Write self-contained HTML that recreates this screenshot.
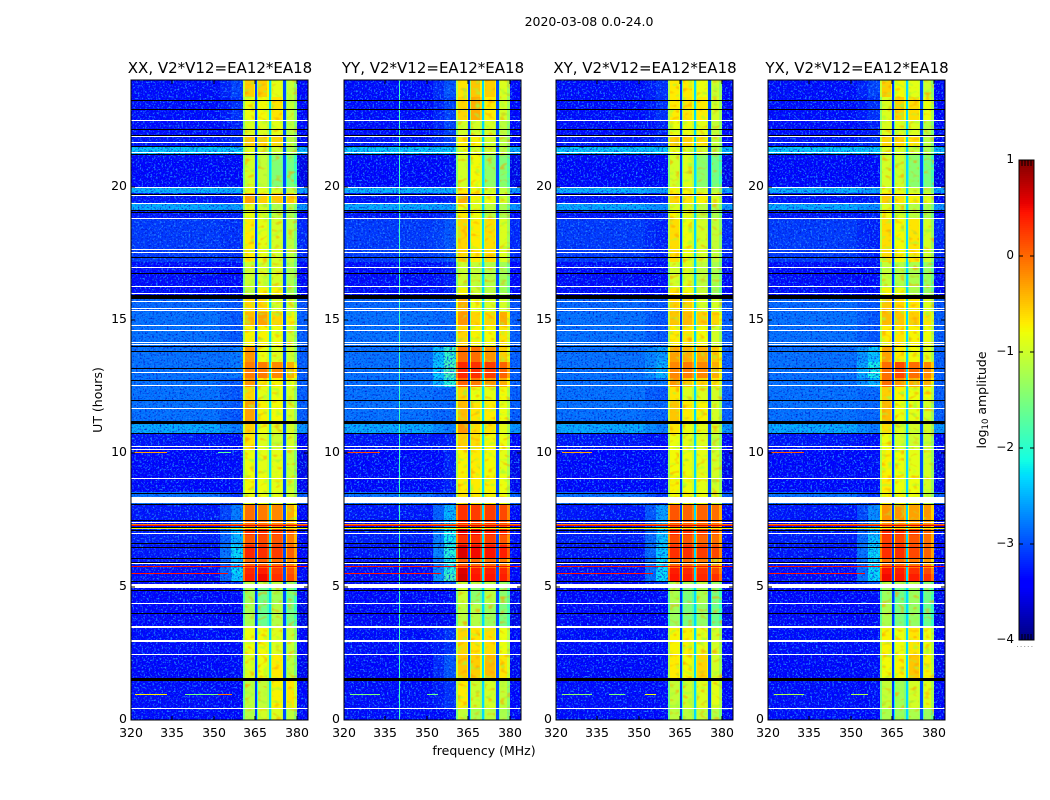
<!DOCTYPE html>
<html lang="en">
<head>
<meta charset="utf-8">
<title>2020-03-08 0.0-24.0</title>
<style>
html,body{margin:0;padding:0;background:#fff;}
#chart{display:block;width:1050px;height:800px;font-family:"DejaVu Sans","Liberation Sans",sans-serif;fill:#000;}
</style>
</head>
<body>
<svg id="chart" xmlns="http://www.w3.org/2000/svg" width="1050" height="800" viewBox="0 0 1050 800">
<defs>
<filter id="speckle-light" filterUnits="objectBoundingBox" x="0" y="0" width="1" height="1" color-interpolation-filters="sRGB">
<feTurbulence type="fractalNoise" baseFrequency="0.55" numOctaves="2" seed="4"/>
<feColorMatrix type="matrix" values="0 0 0 0 0.12  0 0 0 0 0.5  0 0 0 0 1  5 0 0 0 -2.6"/>
</filter>
<filter id="speckle-dark" filterUnits="objectBoundingBox" x="0" y="0" width="1" height="1" color-interpolation-filters="sRGB">
<feTurbulence type="fractalNoise" baseFrequency="0.55" numOctaves="2" seed="11"/>
<feColorMatrix type="matrix" values="0 0 0 0 0  0 0 0 0 0.08  0 0 0 0 0.8  3 0 0 0 -1.55"/>
</filter>
<filter id="mottle-warm" filterUnits="userSpaceOnUse" x="0" y="0" width="1050" height="800" color-interpolation-filters="sRGB">
<feTurbulence type="fractalNoise" baseFrequency="0.16 0.24" numOctaves="1" seed="7"/>
<feColorMatrix type="matrix" values="0 0 0 0 1  0 0 0 0 0.62  0 0 0 0 0  3 0 0 0 -1.65"/>
<feComposite in2="SourceGraphic" operator="in"/>
</filter>
<filter id="mottle-cool" filterUnits="userSpaceOnUse" x="0" y="0" width="1050" height="800" color-interpolation-filters="sRGB">
<feTurbulence type="fractalNoise" baseFrequency="0.16 0.24" numOctaves="1" seed="19"/>
<feColorMatrix type="matrix" values="0 0 0 0 0.6  0 0 0 0 1  0 0 0 0 0.25  3 0 0 0 -1.65"/>
<feComposite in2="SourceGraphic" operator="in"/>
</filter>
</defs>
<text x="589" y="26" text-anchor="middle" font-size="12.5">2020-03-08 0.0-24.0</text>
<text x="484" y="755" text-anchor="middle" font-size="12.5">frequency (MHz)</text>
<text transform="translate(102,400) rotate(-90)" text-anchor="middle" font-size="12.5">UT (hours)</text>
<text transform="translate(986,400) rotate(-90)" text-anchor="middle" font-size="12.5">log<tspan font-size="8.5" dy="2">10</tspan><tspan dy="-2"> amplitude</tspan></text>
</svg>
<script>
// ---- data (log10 amplitude, hours, MHz) ----
const panelTitles = ["XX, V2*V12=EA12*EA18", "YY, V2*V12=EA12*EA18", "XY, V2*V12=EA12*EA18", "YX, V2*V12=EA12*EA18"];
const freqTicks = [320, 335, 350, 365, 380];
const hourTicks = [0, 5, 10, 15, 20];
const colorbarTicks = [1, 0, -1, -2, -3, -4];

const timeEdges = [0,.45,1.46,2.44,3.45,4.35,4.95,5.17,5.47,5.7,6.07,6.56,6.94,7.2,8.06,8.55,9.19,10.12,10.76,11.1,12,12.49,12.82,13.42,14.02,14.77,15.3,15.82,16.2,17.17,18.82,19.12,19.35,19.76,19.98,21.22,21.52,21.9,22.5,23.36,24];

const backgroundLevels = [-3.05,-3.05,-3.1,-3.05,-3.15,-3.1,-3.05,-3.05,-3.05,-3,-3,-2.95,-2.95,-3,-2.5,-3.1,-3.15,-3,-2.2,-2.5,-2.5,-2.5,-2.5,-2.5,-2.5,-2.5,-2.55,-3.05,-3.05,-2.8,-3,-2.2,-3,-2.15,-3.15,-2.05,-3,-3.05,-3.05,-3.05];

// one row per time segment: subband 1, 2, 3, 4, shoulder below the band
const levelsXX = [
[-1.05,-.85,-.8,-1,-3],[-1,-.95,-.6,-.5,-3],[-.8,-.7,-.55,-1,-2.9],[-.7,-.65,-.8,-.95,-2.9],[-1.1,-1.5,-1.05,-1.45,-3],
[-1.15,-1.45,-1.15,-1.45,-2.9],[-1,-1,-1,-1.2,-2.7],[.4,.5,.3,.2,-1.9],[.35,.4,.25,.15,-1.8],[.1,.1,.05,-.05,-2],
[.35,.3,.25,.1,-1.8],[.15,.2,.15,0,-2],[.3,.3,.25,.1,-2],[.05,0,-.05,-.2,-2.3],[-.7,-.7,-.75,-.9,-2.7],
[-.65,-.7,-.75,-.9,-2.9],[-.7,-.75,-.75,-.95,-2.9],[-.5,-.8,-.9,-.85,-2.9],[-.35,-.7,-.8,-.85,-2.3],[-.15,-.6,-.65,-.85,-2.5],
[-.4,-.75,-.7,-.85,-2.5],[-.1,-.5,-.6,-.7,-2.5],[0,0,-.05,-.2,-2.3],[-.1,-.7,-.8,-.9,-2.3],[-.6,-.6,-.7,-.9,-2.5],
[-.25,-.15,-.4,-.6,-2.5],[-.4,-.4,-.85,-.9,-2.5],[-1,-.6,-.6,-1.1,-2.9],[-.9,-.85,-.85,-1.1,-2.9],[-.55,-.75,-.85,-1,-2.7],
[-.7,-.8,-1,-1.1,-2.8],[-.8,-.85,-1.1,-1.1,-2.1],[-.15,-.35,-.3,-.3,-2.8],[-.7,-.75,-.85,-.95,-2],[-.85,-.95,-1.35,-1.45,-3],
[-.75,-.85,-.9,-1.1,-1.9],[-.3,-.35,-.4,-1,-2.7],[-.8,-.8,-.75,-1,-2.8],[-.7,-.65,-.5,-.95,-2.7],[-.35,-.35,-.75,-.95,-2.6]];
const levelsYY = [
[-.95,-1.1,-1,-1.1,-2.9],[-.55,-.9,-.85,-.95,-2.7],[-.3,-.35,-.25,-.5,-2.5],[-.4,-.5,-.45,-.7,-2.7],[-1,-1.05,-1.2,-1.4,-3],
[-.9,-1.3,-1,-1.3,-2.9],[-.9,-1,-1,-1.2,-2.5],[.65,.45,.45,.4,-1.4],[.6,.4,.4,.35,-1.6],[.1,.05,.05,0,-1.7],
[.6,.5,.45,.4,-1.6],[.3,.3,.25,.15,-1.7],[.55,.5,.4,.35,-1.7],[.3,.25,.25,.2,-2],[-.5,-.55,-.6,-.7,-2.6],
[-.55,-.55,-.6,-.7,-2.8],[-.6,-.55,-.65,-.75,-2.8],[-.35,-.45,-.65,-.7,-2.8],[-.1,-.45,-.5,-.75,-2.3],[-.25,-.5,-.55,-.7,-2.4],
[-.4,-.7,-.75,-.65,-2.4],[.1,0,-.1,-.2,-1.6],[.35,.3,.25,.1,-1.4],[.05,.05,-.1,-.35,-1.5],[-.4,-.6,-.65,-.5,-2.4],
[-.1,-.4,-.4,-.2,-2.4],[-.2,-.7,-.85,-.85,-2.4],[-.6,-.9,-1,-1.2,-2.8],[-.9,-.95,-1.05,-1.15,-2.8],[-.4,-.55,-.45,-.8,-2.5],
[-.55,-.7,-1,-1.1,-2.7],[-.7,-.8,-1,-1.1,-2.1],[-.2,-.6,-.7,-.85,-2.8],[-.55,-.6,-.8,-.95,-2],[-.85,-.65,-1.25,-1.35,-2.9],
[-.75,-.85,-.9,-1.05,-1.9],[-.55,-.6,-.85,-1,-2.6],[-.85,-.85,-.85,-1,-2.6],[-.4,-.2,-.55,-.85,-2.6],[-.5,-.3,-.35,-.8,-2.5]];
const levelsXY = [
[-1,-1,-.95,-1.05,-3],[-.95,-.9,-.8,-.75,-2.9],[-.55,-.65,-.4,-.85,-2.9],[-.6,-.6,-.75,-.85,-2.9],[-1.2,-1.4,-1.25,-1.5,-3],
[-1.1,-1.4,-1.1,-1.4,-2.9],[-1,-1.1,-1,-1.2,-2.6],[.45,.4,.35,.3,-1.8],[.4,.35,.3,.2,-1.8],[.05,.05,0,-.1,-1.8],
[.3,.3,.25,.2,-1.9],[.2,.15,.1,.05,-1.9],[.35,.3,.25,.15,-2],[.15,.1,.1,.05,-2.1],[-.65,-.65,-.7,-.85,-2.7],
[-.6,-.7,-.75,-.85,-2.9],[-.65,-.7,-.75,-.85,-2.9],[-.7,-.75,-.8,-.95,-2.9],[-.5,-.7,-.75,-.85,-2.3],[-.3,-.55,-.6,-.85,-2.4],
[-.5,-.8,-.8,-.85,-2.5],[-.1,-.3,-.4,-.5,-2.3],[-.05,0,-.05,-.2,-2],[-.15,-.2,-.2,-.3,-2.1],[-.55,-.5,-.65,-.85,-2.5],
[-.3,-.25,-.35,-.4,-2.5],[-.35,-.35,-.85,-.85,-2.5],[-.5,-.65,-.95,-1.2,-2.9],[-.85,-.8,-1,-1.1,-2.9],[-.45,-.7,-.85,-.95,-2.8],
[-.6,-.75,-1,-1.1,-2.8],[-.8,-.85,-1,-1.1,-2.2],[-.4,-.5,-.6,-.75,-2.8],[-.6,-.65,-.85,-1,-2.1],[-.85,-.8,-1.3,-1.45,-3],
[-.75,-.8,-.9,-1.05,-1.9],[-.35,-.4,-.5,-.95,-2.7],[-.7,-.7,-.75,-.95,-2.8],[-.55,-.5,-.55,-.85,-2.7],[-.55,-.55,-.7,-.9,-2.7]];
const levelsYX = [
[-1.1,-1.2,-1.1,-1.2,-3],[-.95,-1.15,-.85,-.75,-2.9],[-.65,-.6,-.3,-.6,-2.9],[-.6,-.7,-.5,-.7,-2.9],[-1.1,-1.4,-1.25,-1.5,-3],
[-1.2,-1.5,-1.2,-1.45,-2.9],[-1,-1.1,-1,-1.3,-2.5],[.5,.45,.4,.3,-1.8],[.45,.4,.3,.2,-1.8],[.05,.05,0,-.1,-1.8],
[.3,.3,.2,.1,-1.8],[.25,.2,.15,.05,-1.9],[.35,.3,.25,.1,-2],[-.1,-.1,-.15,-.1,-2.2],[-.6,-.65,-.7,-.9,-2.7],
[-.55,-.7,-.7,-.85,-2.9],[-.6,-.7,-.75,-.85,-2.9],[-.7,-.85,-.9,-.9,-2.9],[-.45,-.8,-.85,-.85,-2.3],[-.25,-.7,-.75,-.85,-2.4],
[-.35,-.6,-.7,-.65,-2.4],[.05,-.1,-.2,-.2,-2],[.05,.2,.05,-.05,-1.7],[-.15,-.55,-.65,-.75,-1.9],[-.55,-.5,-.6,-.7,-2.5],
[-.25,-.3,-.35,-.5,-2.5],[-.3,-.4,-.5,-.8,-2.5],[-.6,-.7,-1.1,-1.2,-2.9],[-.95,-1.05,-1.1,-1.2,-2.9],[-.45,-.65,-.5,-.85,-2.8],
[-.7,-.8,-1,-1.1,-2.8],[-.8,-.9,-1.05,-1.1,-2.2],[-.35,-.5,-.6,-.75,-2.8],[-.7,-.75,-.9,-1,-2.1],[-.85,-.9,-1.3,-1.4,-3],
[-.8,-.85,-.95,-1.1,-1.9],[-.4,-.4,-.5,-1,-2.7],[-.8,-.8,-.8,-1,-2.8],[-.8,-.35,-.45,-.7,-2.7],[-.35,-.65,-.75,-.9,-2.6]];

// frequency columns: edges, the level each column follows, and its offset from that level
const channelEdges = [320,352,356,360.6,361.1,364.5,364.9,365.6,366.1,369.3,369.8,370.5,370.9,374.5,374.9,376,376.4,379,380.1,384];
const channelSource = ["bg","mid","sh","s0","s0","s0","abs","s1","s1","s1","abs","s2","s2","s2","abs","s3","s3","s3","bg"];
const channelOffset = [-.3,-.4,-.45,-.5,0,-.2,-3.1,-.9,0,-.2,-2.3,-.5,0,-.2,-3,-.5,0,-.35,-.4];

// flagged integrations (hours)
const whiteFlags = [22.49,21.89,21.66,21.31,19.97,19.69,19.39,18.81,17.65,17.55,17,16.26,16,15.71,15.44,15.37,14.8,14.61,14.16,14.1,13.06,12.55,11.69,10.29,10.15,9.06,8.53,7.41,7,5.88,4.38,3.54,3.49,3.01,2.95,2.46,.46];
const whiteBlocks = [[8.13,8.37],[4.95,5.1]];
const blackFlags = [23.24,22.92,22.15,21.95,21.51,21.21,19.73,19.12,19.06,17.35,16.75,14.02,13.82,13.21,12.74,11.99,10.77,8.5,8.09,7.5,7.25,7.12,6.63,6.47,6.09,5.94,5.2,4.86,4.02];
const blackBlocks = [[15.8,15.93],[11.1,11.2],[1.46,1.59]];

// interference lines: hour, start MHz, end MHz, level
const rfiAllPanels = [[7.36,320,384,-.1],[7.31,320,384,.5],[7.19,320,384,-.8],[5.76,320,384,.5],[5.5,320,355,.45]];
// per-panel interference: panel, hour, start MHz, end MHz, level
const rfiByPanel = [
[0,.96,321.5,333,-.7],[0,.96,339.5,351.5,-1.5],[0,.96,351.5,356.5,-.1],[0,10.04,321,333,-.3],[0,10.04,351.5,356,-1.7],
[1,.96,322,333,-1.5],[1,.96,350,354,-1.6],[1,10.04,321,333,.2],
[2,.96,322,333,-1.4],[2,.96,339,345,-1.5],[2,.96,352,356,-.8],[2,10.04,322,333,-.3],
[3,.96,322,333,-1.2],[3,.96,350,356,-1.2],[3,10.04,321,333,.1]];
// vertical interference: panel, MHz, width MHz, level
const rfiVertical = [[1,340,.3,-1.9]];

// subband ranges (MHz) that receive the soft mottling texture
const subbandRanges = [[361.1,364.5],[366.1,369.3],[370.9,374.5],[376.4,380.1]];

// ---- scales ----
const panelLefts = [131, 344, 556, 768];
const panelLevels = [levelsXX, levelsYY, levelsXY, levelsYX];
const plotW = 177, plotTop = 80, plotBottom = 720;
const xAxis = (p, f) => Math.round(panelLefts[p] + (f - 320) * plotW / 64);
const yAxis = h => Math.round(plotBottom - h * (plotBottom - plotTop) / 24);

function ramp(t, pts) {
  if (t <= pts[0][0]) return pts[0][1];
  for (let i = 1; i < pts.length; i++) {
    if (t <= pts[i][0]) {
      const a = pts[i - 1], b = pts[i];
      return a[1] + (b[1] - a[1]) * (t - a[0]) / (b[0] - a[0]);
    }
  }
  return pts[pts.length - 1][1];
}
function jet(level) {
  const t = Math.max(0, Math.min(1, (level + 4) / 5));
  const r = ramp(t, [[0,0],[.35,0],[.66,1],[.89,1],[1,.5]]);
  const g = ramp(t, [[0,0],[.125,0],[.375,1],[.64,1],[.91,0],[1,0]]);
  const b = ramp(t, [[0,.5],[.11,1],[.34,1],[.65,0],[1,0]]);
  return "rgb(" + Math.round(r * 255) + "," + Math.round(g * 255) + "," + Math.round(b * 255) + ")";
}
// calibration of my eye-read subband levels against the reference colours
const bandCalibration = [[-2,-2.1],[-.7,-.82],[-.3,-.5],[0,-.1],[.3,.3],[1,1]];

// ---- drawing ----
const NS = "http://www.w3.org/2000/svg";
const svg = document.getElementById("chart");
function make(tag, attrs, parent) {
  const el = document.createElementNS(NS, tag);
  for (const k in attrs) el.setAttribute(k, attrs[k]);
  (parent || svg).appendChild(el);
  return el;
}
function cellLevel(row, bg, c) {
  const src = channelSource[c], off = channelOffset[c];
  if (src === "abs") return off;
  if (src === "bg") return bg + off;
  if (src === "sh") return row[4] + off;
  if (src === "mid") return (bg + row[4]) / 2 + off;
  return ramp(row[+src.slice(1)], bandCalibration) + off;
}

panelTitles.forEach((title, p) => {
  const g = make("g", {"shape-rendering": "crispEdges"});
  
  
  const levels = panelLevels[p];

  for (let s = 0; s < timeEdges.length - 1; s++) {
    const y0 = yAxis(timeEdges[s + 1]), y1 = yAxis(timeEdges[s]);
    for (let c = 0; c < channelSource.length; c++) {
      const x0 = xAxis(p, channelEdges[c]), x1 = xAxis(p, channelEdges[c + 1]);
      const cell = make("rect", {x: x0, y: y0, width: x1 - x0, height: y1 - y0, fill: jet(cellLevel(levels[s], backgroundLevels[s], c))}, g);
      
      
    }
    // soft mottling inside dimmer subbands only (visual texture only)
    subbandRanges.forEach((range, k) => {
      if (levels[s][k] >= -.05) return;
      ["mottle-warm", "mottle-cool"].forEach(id => {
        const mottle = make("rect", {x: xAxis(p, range[0]), y: y0, width: xAxis(p, range[1]) - xAxis(p, range[0]), height: y1 - y0, fill: "#fff", filter: "url(#" + id + ")"}, g);
        
        
      });
    });
  }

  // receiver-noise grain over the off-band regions (visual texture only)
  [[320, 360.6], [380.1, 384]].forEach(range => {
    ["speckle-light", "speckle-dark"].forEach(id => {
      const grain = make("rect", {x: xAxis(p, range[0]), y: plotTop, width: xAxis(p, range[1]) - xAxis(p, range[0]), height: plotBottom - plotTop, fill: "#fff", filter: "url(#" + id + ")"}, g);
      
      
    });
  });

  rfiVertical.filter(v => v[0] === p).forEach(v => {
    const line = make("rect", {x: xAxis(p, v[1]), y: plotTop, width: Math.max(1, xAxis(p, v[1] + v[2]) - xAxis(p, v[1])), height: plotBottom - plotTop, fill: jet(v[3])}, g);
    
    
  });

  rfiAllPanels.concat(rfiByPanel.filter(r => r[0] === p).map(r => r.slice(1))).forEach(r => {
    const line = make("rect", {x: xAxis(p, r[1]), y: yAxis(r[0]), width: xAxis(p, r[2]) - xAxis(p, r[1]), height: 1, fill: jet(r[3])}, g);
    
    
  });

  const flagRow = (start, end, color, minH) => {
    const y0 = yAxis(end), y1 = yAxis(start);
    return make("rect", {x: xAxis(p, 320), y: y0, width: plotW, height: Math.max(minH, y1 - y0), fill: color}, g);
  };
  whiteFlags.forEach(h => {
    const f = flagRow(h, h, "#fff", 1);
    
    
  });
  whiteBlocks.forEach(b => {
    const f = flagRow(b[0], b[1], "#fff", 1);
    
    
  });
  blackFlags.forEach(h => {
    const f = flagRow(h, h, "#000", 1);
    
    
  });
  blackBlocks.forEach(b => {
    const f = flagRow(b[0], b[1], "#000", 1);
    
    
  });

  const L = panelLefts[p], R = L + plotW;
  const frame = make("rect", {x: L, y: plotTop, width: plotW, height: plotBottom - plotTop, fill: "none", stroke: "#000", "stroke-width": 1});
  
  

  freqTicks.forEach(f => {
    const x = xAxis(p, f);
    [[plotBottom, plotBottom - 4], [plotTop, plotTop + 4]].forEach(t => {
      const tick = make("line", {x1: x, x2: x, y1: t[0], y2: t[1], stroke: "#000", "stroke-width": 1});
      
      
    });
    const label = make("text", {x: x, y: 737, "text-anchor": "middle", "font-size": 12.5});
    label.textContent = f;
    
    
  });
  hourTicks.forEach(h => {
    const y = yAxis(h);
    [[L, L + 4], [R, R - 4]].forEach(t => {
      const tick = make("line", {x1: t[0], x2: t[1], y1: y, y2: y, stroke: "#000", "stroke-width": 1});
      
      
    });
    const label = make("text", {x: L - 4, y: y + 3, "text-anchor": "end", "font-size": 12.5});
    label.textContent = h;
    
    
  });
  const titleEl = make("text", {x: L + plotW / 2 + .5, y: 73, "text-anchor": "middle", "font-size": 15});
  titleEl.textContent = title;
  
  
});

// ---- colorbar ----
const cbLeft = 1019, cbRight = 1034, cbTop = 160, cbBottom = 640;
const cbY = v => cbBottom - (v + 4) * (cbBottom - cbTop) / 5;
const cbGroup = make("g", {"shape-rendering": "crispEdges"});


for (let py = cbTop; py < cbBottom; py += 2) {
  const v = -4 + (cbBottom - py - 1) * 5 / (cbBottom - cbTop);
  const seg = make("rect", {x: cbLeft, y: py, width: cbRight - cbLeft, height: 2, fill: jet(v)}, cbGroup);
  
  
}
const cbFrame = make("rect", {x: cbLeft, y: cbTop, width: cbRight - cbLeft, height: cbBottom - cbTop, fill: "none", stroke: "#000", "stroke-width": 1});


colorbarTicks.forEach(v => {
  const y = cbY(v);
  [[cbLeft, cbLeft + 4], [cbRight, cbRight - 4]].forEach(t => {
    const tick = make("line", {x1: t[0], x2: t[1], y1: y, y2: y, stroke: "#000", "stroke-width": 1});
    
    
  });
  const label = make("text", {x: 1014, y: y + 3, "text-anchor": "end", "font-size": 12});
  label.textContent = v < 0 ? "\u2212" + Math.abs(v) : String(v);
  
  
});
for (let i = 1; i < 5; i++) {
  const x = cbLeft + i * (cbRight - cbLeft) / 5;
  [[cbTop, cbTop + 6], [cbBottom, cbBottom - 6]].forEach(t => {
    const tick = make("line", {x1: x, x2: x, y1: t[0], y2: t[1], stroke: "#000", "stroke-width": 1});
    
    
  });
}
const cbDots = make("line", {x1: 1017, x2: 1035, y1: 646.5, y2: 646.5, stroke: "#999", "stroke-width": 1, "stroke-dasharray": "1 2.6"});


</script>
</body>
</html>
